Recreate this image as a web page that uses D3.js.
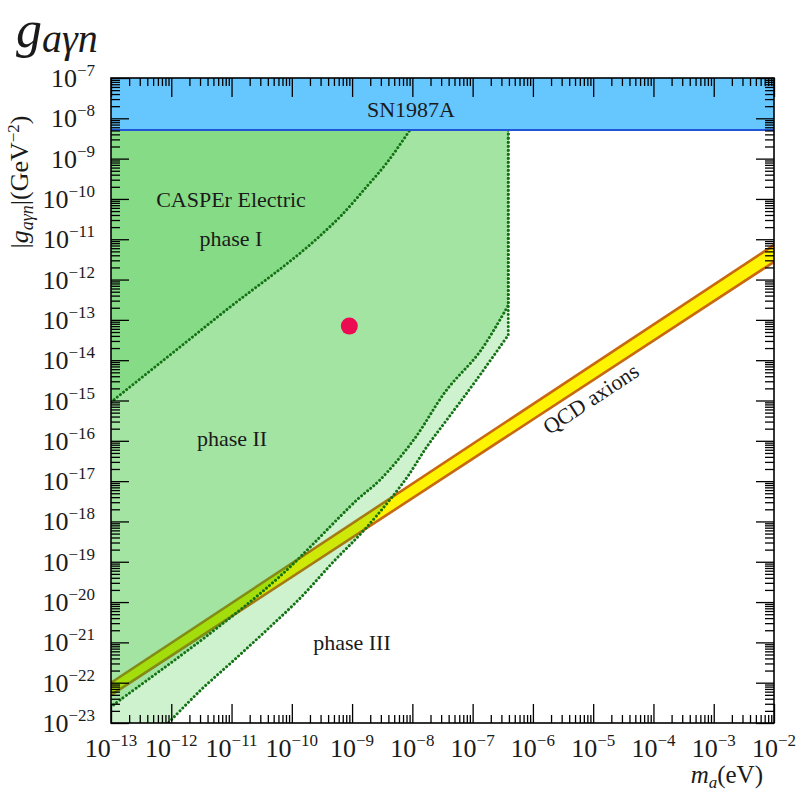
<!DOCTYPE html>
<html>
<head>
<meta charset="utf-8">
<script src="https://cdn.jsdelivr.net/npm/d3@7"></script>
<style>
  body { margin: 0; background: #fff; }
  svg { display: block; }
  text { font-family: "Liberation Serif", "DejaVu Serif", serif; fill: #1a1a1a; }
</style>
</head>
<body>
<svg id="chart" width="800" height="793"></svg>
<script>
// Axis decades (exponents of ten) used for the tick labels
const massTickExp = [-13, -12, -11, -10, -9, -8, -7, -6, -5, -4, -3, -2];
const couplingTickExp = [-23, -22, -21, -20, -19, -18, -17, -16, -15, -14, -13, -12, -11, -10, -9, -8, -7];

// SN1987A upper bound on |g_aγn| (GeV^-2)
const sn1987aLimit = 5.1e-9;

// CASPEr Electric phase I reach (mass in eV, coupling in GeV^-2)
const phaseIMass     = [1e-13, 6.3e-12, 4.27e-10, 6.3e-10, 1.74e-9, 3.7e-9, 9.1e-9];
const phaseICoupling = [9.1e-16, 1.29e-13, 2.04e-11, 3.6e-11, 2.0e-10, 7.6e-10, 5.1e-9];

// Phase II reach (starts at the foot of the vertical cut-off)
const phaseIICutoff   = 3.9e-7;
const phaseIIMass     = [3.9e-7, 1.32e-7, 3.7e-8, 1.05e-8, 2.9e-9, 1.2e-9, 6.3e-11, 4.4e-12, 1.41e-13, 1e-13];
const phaseIICoupling = [2.3e-13, 1.62e-14, 1.82e-15, 1.05e-16, 1.07e-17, 3.4e-18, 4.3e-20, 1.66e-21, 3.7e-23, 2.5e-23];

// Phase III reach
const phaseIIICutoff   = 3.9e-7;
const phaseIIIMass     = [3.9e-7, 1.15e-7, 4.5e-8, 1.74e-8, 7.6e-9, 1.74e-9, 4.9e-10, 1.38e-10, 3.8e-11, 1.07e-11, 3.0e-12, 8.9e-13];
const phaseIIICoupling = [4.2e-14, 3.2e-15, 4.8e-16, 7.1e-17, 1.07e-17, 7.1e-19, 1.0e-19, 1.26e-20, 2.0e-21, 3.5e-22, 6.3e-23, 1e-23];

// QCD axion band edges
const qcdMass  = [1e-13, 1e-2];
const qcdUpper = [1.0e-22, 7.2e-12];
const qcdLower = [4.9e-23, 2.75e-12];

// Benchmark point
const pointMass = [9e-10];
const pointCoupling = [7e-14];

const svg = d3.select("#chart");
const plotLeft = 111, plotRight = 774, plotTop = 78, plotBottom = 723;

const x = d3.scaleLog().domain([1e-13, 1e-2]).range([plotLeft, plotRight]);
const y = d3.scaleLog().domain([1e-23, 1e-7]).range([plotBottom, plotTop]);

svg.append("defs").append("clipPath").attr("id", "plot-clip")
  .append("rect").attr("x", plotLeft).attr("y", plotTop)
  .attr("width", plotRight - plotLeft).attr("height", plotBottom - plotTop);

const plot = svg.append("g").attr("clip-path", "url(#plot-clip)");
const line = d3.line().x(d => x(d[0])).y(d => y(d[1]));
const smooth = d3.line().x(d => x(d[0])).y(d => y(d[1])).curve(d3.curveCatmullRom.alpha(0.5));
const monotone = d3.line().x(d => x(d[0])).y(d => y(d[1])).curve(d3.curveMonotoneX);
const zip = (a, b) => a.map((v, i) => [v, b[i]]);
const px = d => `${x(d[0])},${y(d[1])}`;

// QCD axion band
const qcdUp = zip(qcdMass, qcdUpper);
const qcdLo = zip(qcdMass, qcdLower);
plot.append("path")
  .attr("d", line(qcdUp.concat(qcdLo.slice().reverse())) + "Z")
  .attr("fill", "#fff400");
[qcdUp, qcdLo].forEach(edge => {
  plot.append("path").attr("d", line(edge))
    .attr("fill", "none").attr("stroke", "#c8680f").attr("stroke-width", 2.6);
});

// Sensitivity regions, stacked as translucent green layers
const green = "rgb(30,190,30)";
const phaseIPts = zip(phaseIMass, phaseICoupling);
const phaseIIPts = zip(phaseIIMass, phaseIICoupling);
const phaseIIIPts = zip(phaseIIIMass, phaseIIICoupling);

// boundary path: vertical cut-off from the SN1987A line, then the smooth reach curve
const boundary = (cutoff, pts) =>
  `M${px([cutoff, sn1987aLimit])}L` + smooth(pts).slice(1);

const phaseIIIBoundary = boundary(phaseIIICutoff, phaseIIIPts);
const phaseIIBoundary = boundary(phaseIICutoff, phaseIIPts);
const phaseIBoundary = monotone(phaseIPts);

plot.append("path")
  .attr("d", phaseIIIBoundary + `L${px([1e-13, 1e-23])}L${px([1e-13, sn1987aLimit])}Z`)
  .attr("fill", green).attr("fill-opacity", 0.22);
plot.append("path")
  .attr("d", phaseIIBoundary + `L${px([1e-13, sn1987aLimit])}Z`)
  .attr("fill", green).attr("fill-opacity", 0.245);
plot.append("path")
  .attr("d", phaseIBoundary + `L${px([1e-13, sn1987aLimit])}Z`)
  .attr("fill", green).attr("fill-opacity", 0.22);

// Dotted boundaries
[phaseIIIBoundary, phaseIIBoundary, phaseIBoundary].forEach(d => {
  plot.append("path").attr("d", d)
    .attr("fill", "none").attr("stroke", "#137213")
    .attr("stroke-width", 3).attr("stroke-linecap", "round")
    .attr("stroke-dasharray", "0.01 4");
});

// SN1987A excluded band
plot.append("rect")
  .attr("x", plotLeft).attr("y", plotTop)
  .attr("width", plotRight - plotLeft).attr("height", y(sn1987aLimit) - plotTop)
  .attr("fill", "#66c7ff");
plot.append("line")
  .attr("x1", plotLeft).attr("x2", plotRight)
  .attr("y1", y(sn1987aLimit)).attr("y2", y(sn1987aLimit))
  .attr("stroke", "#1f55d6").attr("stroke-width", 2);

// Benchmark point
plot.selectAll("circle.pt").data(zip(pointMass, pointCoupling)).enter()
  .append("circle").attr("class", "pt")
  .attr("cx", d => x(d[0])).attr("cy", d => y(d[1])).attr("r", 8.5)
  .attr("fill", "#ec0a52");

// Ticks on all four sides, pointing inward
const majorMass = massTickExp.map(e => Math.pow(10, e));
const majorCoupling = couplingTickExp.map(e => Math.pow(10, e));
const minorOf = majors => {
  const out = [];
  majors.slice(0, -1).forEach(m => { for (let k = 2; k <= 9; k++) out.push(m * k); });
  return out;
};
const minorMass = minorOf(majorMass);
const minorCoupling = minorOf(majorCoupling);

function addAxis(axisFn, scale, ticks, size, transform) {
  const g = svg.append("g").attr("transform", transform)
    .call(axisFn(scale).tickValues(ticks).tickSize(size).tickFormat(""));
  g.select(".domain").remove();
  g.selectAll(".tick line").attr("stroke", "#000").attr("stroke-width", 1.3);
}
addAxis(d3.axisBottom, x, majorMass, -19, `translate(0,${plotBottom})`);
addAxis(d3.axisBottom, x, minorMass, -8, `translate(0,${plotBottom})`);
addAxis(d3.axisTop, x, majorMass, -19, `translate(0,${plotTop})`);
addAxis(d3.axisTop, x, minorMass, -8, `translate(0,${plotTop})`);
addAxis(d3.axisLeft, y, majorCoupling, -18, `translate(${plotLeft},0)`);
addAxis(d3.axisLeft, y, minorCoupling, -9, `translate(${plotLeft},0)`);
addAxis(d3.axisRight, y, majorCoupling, -18, `translate(${plotRight},0)`);
addAxis(d3.axisRight, y, minorCoupling, -9, `translate(${plotRight},0)`);

// Frame
svg.append("rect")
  .attr("x", plotLeft).attr("y", plotTop)
  .attr("width", plotRight - plotLeft).attr("height", plotBottom - plotTop)
  .attr("fill", "none").attr("stroke", "#000").attr("stroke-width", 1.6);

// Tick labels with superscript exponents
svg.append("g").selectAll("text").data(massTickExp).enter().append("text")
  .attr("x", e => x(Math.pow(10, e))).attr("y", 757)
  .attr("text-anchor", "middle")
  .each(function (e) {
    const t = d3.select(this);
    t.append("tspan").attr("font-size", 26).text("10");
    t.append("tspan").attr("font-size", 17).attr("dy", -11).text("\u2212" + Math.abs(e));
  });

svg.append("g").selectAll("text").data(couplingTickExp).enter().append("text")
  .attr("x", 95).attr("y", e => y(Math.pow(10, e)) + 9)
  .attr("text-anchor", "end")
  .each(function (e) {
    const t = d3.select(this);
    t.append("tspan").attr("font-size", 26).text("10");
    t.append("tspan").attr("font-size", 17).attr("dy", -11).text("\u2212" + Math.abs(e));
  });

// Region labels
const labels = [
  { text: "SN1987A", x: 411, y: 117 },
  { text: "CASPEr Electric", x: 231, y: 207 },
  { text: "phase I", x: 231, y: 246 },
  { text: "phase II", x: 232, y: 446 },
  { text: "phase III", x: 352, y: 650 }
];
svg.append("g").selectAll("text").data(labels).enter().append("text")
  .attr("x", d => d.x).attr("y", d => d.y)
  .attr("text-anchor", "middle").attr("font-size", 22)
  .text(d => d.text);

// Band label aligned with the QCD line
const angle = Math.atan2(y(qcdUpper[1]) - y(qcdUpper[0]), x(qcdMass[1]) - x(qcdMass[0])) * 180 / Math.PI;
svg.append("text")
  .attr("transform", `translate(595,405) rotate(${angle})`)
  .attr("text-anchor", "middle").attr("font-size", 22)
  .text("QCD axions");

// Axis titles
const xt = svg.append("text").attr("x", 763).attr("y", 783).attr("text-anchor", "end").attr("font-size", 25);
xt.append("tspan").attr("font-style", "italic").text("m");
xt.append("tspan").attr("font-style", "italic").attr("font-size", 17).attr("dy", 5).text("a");
xt.append("tspan").attr("dy", -5).text("(eV)");

const yt = svg.append("text")
  .attr("transform", "translate(28,182) rotate(-90)")
  .attr("text-anchor", "middle").attr("font-size", 26);
yt.append("tspan").text("|");
yt.append("tspan").attr("font-style", "italic").text("g");
yt.append("tspan").attr("font-style", "italic").attr("font-size", 18).attr("dy", 5).text("a\u03b3n");
yt.append("tspan").attr("dy", -5).text("|(GeV");
yt.append("tspan").attr("font-size", 17).attr("dy", -9).text("\u22122");
yt.append("tspan").attr("dy", 9).text(")");

// Title
const title = svg.append("text").attr("x", 16).attr("y", 47);
title.append("tspan").attr("font-style", "italic").attr("font-size", 52).text("g");
title.append("tspan").attr("font-style", "italic").attr("font-size", 40).attr("dy", 5).text("a\u03b3n");
</script>
</body>
</html>
